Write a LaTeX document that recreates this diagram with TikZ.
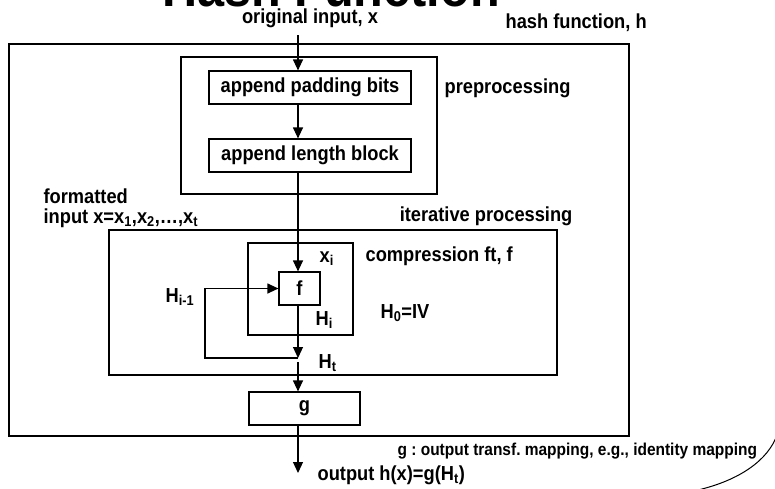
\documentclass[tikz,border=0pt]{standalone}
\usepackage{fontspec}
\setmainfont{Liberation Sans}[FakeStretch=0.9]
\usetikzlibrary{arrows.meta}
\newcommand{\sbx}[1]{\textsubscript{#1}}
\frenchspacing
\begin{document}
\begin{tikzpicture}[x=1pt,y=-1pt, line width=1.2pt,
  box/.style={draw, inner sep=0pt},
  lbl/.style={font=\bfseries\fontsize{20.3}{22}\selectfont, inner sep=0pt},
  small/.style={font=\bfseries\fontsize{17.2}{19}\selectfont, inner sep=0pt},
  arr/.style={-{Triangle[width=10pt,length=11pt]}}]
\useasboundingbox (0,0) rectangle (775,488);
% boxes
\node[box, minimum width=620pt, minimum height=392pt] (outer) at (319,240) {};
\node[box, minimum width=256pt, minimum height=137pt] (pre) at (309,125.5) {};
\node[box, lbl, minimum width=202pt, minimum height=33pt] (pad) at (310,87.5) {append padding bits};
\node[box, lbl, minimum width=202pt, minimum height=33pt] (len) at (310,155.5) {append length block};
\node[box, minimum width=448pt, minimum height=145pt] (iter) at (333,302.5) {};
\node[box, minimum width=105pt, minimum height=92pt] (comp) at (300.5,289) {};
\node[box, lbl, minimum width=41pt, minimum height=33pt] (f) at (299.5,288.5) {f};
\node[box, lbl, minimum width=111pt, minimum height=33pt] (g) at (304.5,408.5) {g};
% title and labels
\node[font=\bfseries\fontsize{54}{56}\selectfont, inner sep=0pt, anchor=base] (title) at (331,6) {Hash Function};
\node[lbl, anchor=base] (orig) at (310,23) {original input, x};
\node[lbl, anchor=base west] (hf) at (505,28) {hash function, h};
\node[lbl, anchor=base west] (prel) at (444,93) {preprocessing};
\node[lbl, anchor=base west] (fmt1) at (43,203) {formatted};
\node[lbl, anchor=base west] (fmt2) at (43,223) {input x=x\sbx{1},x\sbx{2},\ldots,x\sbx{t}};
\node[lbl, anchor=base east] (iterl) at (573,221) {iterative processing};
\node[lbl, anchor=base west] (compl) at (365,261) {compression ft, f};
\node[lbl, anchor=base west] (xi) at (319,262) {x\sbx{i}};
\node[lbl, anchor=base west] (Hi) at (315,325) {H\sbx{i}};
\node[lbl, anchor=base west] (H0) at (380,318) {H\sbx{0}=IV};
\node[lbl, anchor=base west] (Ht) at (318,368) {H\sbx{t}};
\node[lbl, anchor=base west] (Him) at (165,302) {H\sbx{i-1}};
\node[lbl, anchor=base west] (outl) at (317,480) {output h(x)=g(H\sbx{t})};
\node[small, anchor=base west] (gl) at (397,455) {g : output transf. mapping, e.g., identity mapping};
% connectors
\coordinate (in) at (298,35);
\coordinate (j) at (298,358);
\coordinate (j2) at (298,362);
\coordinate (fbl) at (205,358);
\coordinate (out) at (298,473);
\draw[arr] (in) -- (in |- pad.north);
\draw[arr] (in |- pad.south) -- (in |- len.north);
\draw[arr] (in |- len.south) -- (in |- f.north);
\draw[arr] (in |- f.south) -- (j);
\draw[arr] (j) -- (fbl) |- (f.west);
\draw[arr] (j2) -- (in |- g.north);
\draw[arr] (in |- g.south) -- (out);
% partial curve at bottom right
\draw[line width=1pt] (777,435) .. controls (768,460) and (740,480) .. (698,490);
\end{tikzpicture}
\end{document}
